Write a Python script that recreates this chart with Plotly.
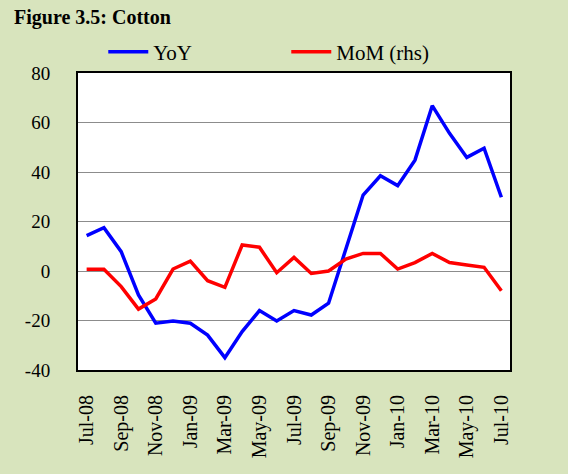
import plotly.graph_objects as go

months = ["Jul-08","Aug-08","Sep-08","Oct-08","Nov-08","Dec-08","Jan-09","Feb-09","Mar-09",
          "Apr-09","May-09","Jun-09","Jul-09","Aug-09","Sep-09","Oct-09","Nov-09","Dec-09",
          "Jan-10","Feb-10","Mar-10","Apr-10","May-10","Jun-10","Jul-10"]
yoy = [14.3, 17.5, 7.8, -9.7, -21.1, -20.2, -21.1, -25.9, -35.0, -24.5, -16.0, -20.2, -16.0,
       -17.8, -13.0, 8.3, 30.7, 38.5, 34.5, 44.8, 66.8, 55.6, 45.9, 49.6, 29.8]
mom = [0.7, 0.7, -6.3, -15.4, -11.3, 0.8, 4.0, -3.9, -6.6, 10.5, 9.6, -0.7, 5.5,
       -1.0, 0.0, 4.8, 7.1, 7.1, 0.8, 3.4, 7.1, 3.4, 2.4, 1.5, -8.0]
tick_labels = months[::2]
y_ticks = [-40, -20, 0, 20, 40, 60, 80]
y_tick_text = ["-40", "-20", "0", "20", "40", "60", "80"]

FONT = "Liberation Serif, Times New Roman, serif"
BG = "#d8e4bd"

fig = go.Figure()
fig.add_trace(go.Scatter(x=months, y=yoy, mode="lines", name="YoY",
                         line=dict(color="#0000ff", width=3.5)))
fig.add_trace(go.Scatter(x=months, y=mom, mode="lines", name="MoM (rhs)", yaxis="y2",
                         line=dict(color="#ff0000", width=3.5)))

fig.update_layout(
    width=568, height=474,
    paper_bgcolor=BG, plot_bgcolor="white",
    margin=dict(l=78, r=58, t=73, b=104, autoexpand=False),
    font=dict(family=FONT, size=19, color="black"),
    title=dict(text="<b>Figure 3.5: Cotton</b>", x=14/568, xanchor="left", xref="container",
               y=1-17/474, yanchor="middle", yref="container",
               font=dict(family=FONT, size=20, color="black")),
    showlegend=True,
    legend=dict(orientation="h", x=0.0585, xanchor="left", y=1.0 + (73-52)/297, yanchor="middle",
                bgcolor="rgba(0,0,0,0)", font=dict(size=21), entrywidth=128, itemwidth=40),
    xaxis=dict(type="category", range=[-0.5, 24.5], tickvals=tick_labels, ticktext=tick_labels,
               tickangle=-90, automargin=False,
               showgrid=False, showline=True, linecolor="black", linewidth=2, mirror=True,
               ticks="", ticklabelstandoff=15, tickfont=dict(size=20)),
    yaxis=dict(range=[-40, 80], tickvals=y_ticks, ticktext=y_tick_text, automargin=False,
               showgrid=True, gridcolor="#8c8c8c", gridwidth=1.3,
               zeroline=False, showline=True, linecolor="black", linewidth=2, mirror=True,
               ticks="", ticklabelstandoff=22, tickfont=dict(size=19)),
    yaxis2=dict(range=[-40, 80], overlaying="y", side="right", showticklabels=False,
                showgrid=False, zeroline=False, showline=False, automargin=False),
)

fig.write_html("out.html", config={"displayModeBar": False},
               post_script="document.body.style.margin='0';document.body.style.background='%s';" % BG)
